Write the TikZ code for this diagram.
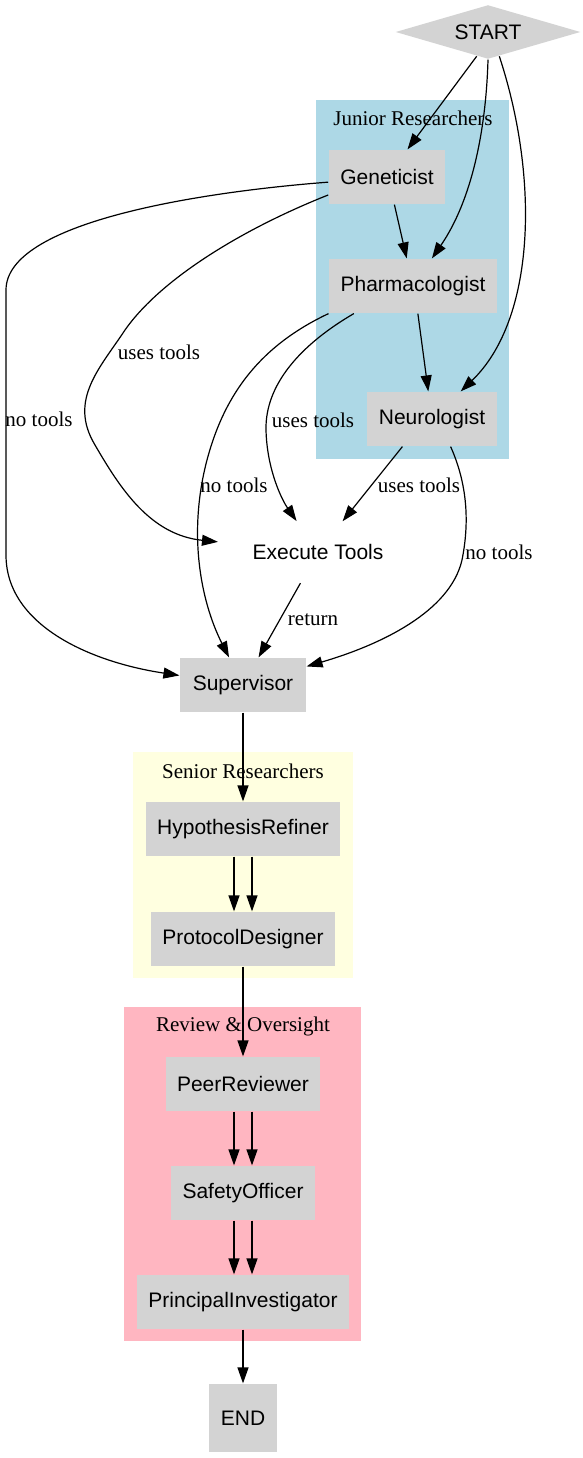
\documentclass[tikz,border=0pt]{standalone}
\usepackage{fontspec}
\setmainfont{Liberation Serif}
\setsansfont{Liberation Sans}
\usetikzlibrary{
  arrows.meta,
  calc,
  shapes.geometric,
}
\tikzset{
  >={Triangle[length=16pt,width=11pt]},
  shorten >=0pt,
}
\definecolor{junior}{RGB}{173,216,230}
\definecolor{senior}{RGB}{255,255,224}
\definecolor{review}{RGB}{255,182,193}
\definecolor{agentgray}{RGB}{211,211,211}

\begin{document}
\begin{tikzpicture}[x=1pt, y=-1pt, line width=1.2pt,
    agent/.style={rectangle, fill=agentgray, font=\sffamily\fontsize{21}{25}\selectfont,
      inner xsep=11.5pt, inner ysep=0pt, minimum height=54pt},
    lbl/.style={font=\fontsize{21}{25}\selectfont, inner sep=1pt},
  ]
      \useasboundingbox (0,0) rectangle (583,1458);

      \fill[junior] (316,100) rectangle (509,459);
      \fill[senior] (133,752) rectangle (353,978);
      \fill[review] (124,1007) rectangle (361,1341);
      \node[lbl] (juniorlbl) at (413,118) {Junior Researchers};
      \node[lbl] (seniorlbl) at (243,771) {Senior Researchers};
      \node[lbl] (reviewlbl) at (243,1026) {Review \& Oversight};

      \node[diamond, fill=agentgray, aspect=3.4, inner sep=2pt,
        minimum width=185pt, minimum height=54pt,
        font=\sffamily\fontsize{21}{25}\selectfont] (start) at (488,32) {START};
      \node[agent] (gen) at (387,177) {Geneticist};
      \node[agent] (pha) at (413,286) {Pharmacologist};
      \node[agent] (neu) at (432,419) {Neurologist};
      \node[ellipse, inner sep=0pt, minimum width=210pt, minimum height=62pt,
        font=\sffamily\fontsize{21}{25}\selectfont] (exec) at (318,552) {Execute Tools};
      \node[agent, minimum width=126pt] (sup) at (243,685) {Supervisor};
      \foreach \name/\txt/\y in {
        hyp/HypothesisRefiner/829,
        pro/ProtocolDesigner/939,
        peer/PeerReviewer/1084,
        safe/SafetyOfficer/1193,
        pi/PrincipalInvestigator/1302
      } {
        \node[agent] (\name) at (243,\y) {\txt};
      }
      \node[agent, minimum height=68pt] (END) at (243,1418) {END};

      \draw[->] (start.-115) -- (gen);
      \draw[->] (start.south) .. controls (486,130) and (472,200) .. (pha);
      \draw[->] (start.-65) .. controls (540,180) and (535,320) .. (neu);
      \draw[->] (gen.-75) -- (pha);
      \draw[->] (pha.-80) -- (neu);

      \draw[->] (gen.185) .. controls (200,192) and (6,222) .. (6,290) -- (6,555)
        .. controls (6,625) and (90,662) .. (sup) node[lbl] at (39,419) {no tools};
      \draw[->] (gen.197) .. controls (240,230) and (160,280) .. (125,330)
        .. controls (100,368) and (68,400) .. (95,445)
        .. controls (120,488) and (150,535) .. (exec) node[lbl] at (159,352) {uses tools};
      \draw[->] (pha.south west) .. controls (262,345) and (225,392) .. (207,460)
        .. controls (188,532) and (200,600) .. (sup) node[lbl] at (234,485) {no tools};
      \draw[->] (pha.205) .. controls (300,345) and (265,385) .. (266,430)
        .. controls (267,470) and (282,500) .. (exec) node[lbl] at (313,420) {uses tools};
      \draw[->] (neu.-137) -- (exec) node[lbl] at (419,485) {uses tools};
      \draw[->] (neu.-56) .. controls (470,490) and (468,530) .. (462,560)
        .. controls (450,612) and (380,645) .. (sup) node[lbl] at (499,552) {no tools};
      \draw[->] (exec) -- (sup) node[lbl] at (313,620) {return};

      \draw[->] (sup) -- (hyp);
      \foreach \a/\b in {hyp/pro, peer/safe, safe/pi} {
        \foreach \dx in {-9pt,9pt} {
          \draw[->] ([xshift=\dx]\a.south) -- ([xshift=\dx]\b.north);
        }
      }
      \draw[->] (pro) -- (peer);
      \draw[->] (pi) -- (END);
\end{tikzpicture}
\end{document}
